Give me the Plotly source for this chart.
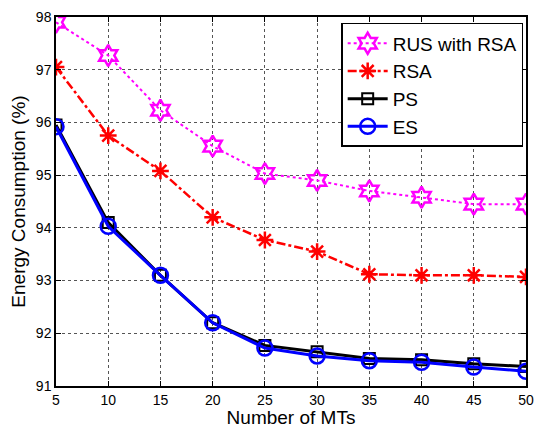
import plotly.graph_objects as go

mts = [5, 10, 15, 20, 25, 30, 35, 40, 45, 50]
rus_rsa = [97.9, 97.27, 96.23, 95.55, 95.03, 94.9, 94.7, 94.58, 94.45, 94.45]
rsa = [97.05, 95.75, 95.08, 94.2, 93.77, 93.55, 93.12, 93.1, 93.1, 93.07]
ps = [95.95, 94.1, 93.1, 92.2, 91.77, 91.65, 91.52, 91.5, 91.42, 91.37]
es = [95.92, 94.03, 93.1, 92.2, 91.72, 91.57, 91.48, 91.45, 91.36, 91.28]

fig = go.Figure()
fig.add_trace(go.Scatter(x=mts, y=rus_rsa, name="RUS with RSA", mode="lines+markers",
                         line=dict(color="#ff00ff", width=2, dash="dot"),
                         marker=dict(symbol="hexagram-open", size=16, color="#ff00ff", line=dict(width=2.5))))
fig.add_trace(go.Scatter(x=mts, y=rsa, name="RSA", mode="lines+markers",
                         line=dict(color="#ff0000", width=2.5, dash="dashdot"),
                         marker=dict(symbol="asterisk-open", size=14, color="#ff0000", line=dict(width=2.5, color="#ff0000"))))
fig.add_trace(go.Scatter(x=mts, y=ps, name="PS", mode="lines+markers",
                         line=dict(color="#000000", width=3),
                         marker=dict(symbol="square-open", size=11, color="#000000", line=dict(width=2))))
fig.add_trace(go.Scatter(x=mts, y=es, name="ES", mode="lines+markers",
                         line=dict(color="#0000ff", width=3),
                         marker=dict(symbol="circle-open", size=15, color="#0000ff", line=dict(width=2.5))))

axis_common = dict(showline=True, linecolor="black", linewidth=1.5, mirror="ticks",
                   ticks="inside", ticklen=5, tickcolor="black", automargin=False,
                   showgrid=True, gridcolor="#555555", griddash="dot", gridwidth=1,
                   zeroline=False, tickfont=dict(family="Liberation Sans, Arial", size=14, color="black"))

fig.update_layout(
    width=534, height=428,
    margin=dict(l=56, r=8, t=17, b=42),
    plot_bgcolor="white", paper_bgcolor="white",
    font=dict(family="Liberation Sans, Arial", color="black"),
    xaxis=dict(range=[5, 50], tickvals=[5, 10, 15, 20, 25, 30, 35, 40, 45, 50],
               title=dict(text="Number of MTs", font=dict(size=19), standoff=0), **axis_common),
    yaxis=dict(range=[91, 98], tickvals=[91, 92, 93, 94, 95, 96, 97, 98],
               title=dict(text="Energy Consumption (%)", font=dict(size=19), standoff=5), **axis_common),
    legend=dict(x=0.994, y=0.984, xanchor="right", yanchor="top",
                bgcolor="white", bordercolor="black", borderwidth=1.5,
                font=dict(size=19, family="Liberation Sans, Arial"),
                tracegroupgap=0, itemwidth=40),
    showlegend=True,
)

fig.write_html("out.html", config={"displayModeBar": False},
               post_script="document.body.style.margin='0';document.body.style.overflow='hidden';")
